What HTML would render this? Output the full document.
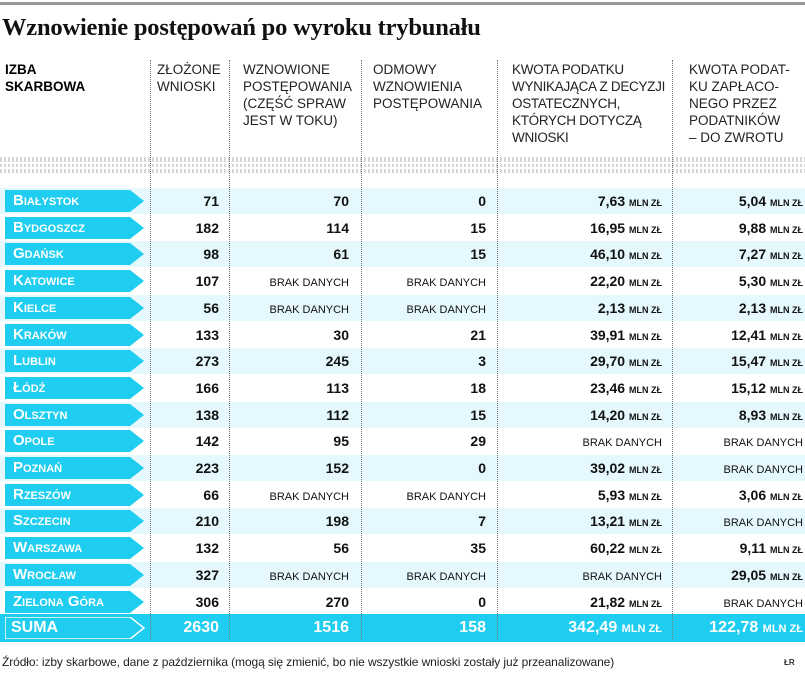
<!DOCTYPE html>
<html><head><meta charset="utf-8">
<style>
body{margin:0;width:805px;height:682px;background:#fff;position:relative;overflow:hidden;font-family:"Liberation Sans",sans-serif;color:#111}
.a{position:absolute;white-space:nowrap}
.h{position:absolute;font-size:13.5px;line-height:17px;color:#222;white-space:nowrap}
.vd{position:absolute;top:60px;height:580px;border-left:1px dotted #777}
.n{position:absolute;font-weight:bold;font-size:14px;text-align:right;white-space:nowrap}
.u{font-size:9px;font-weight:bold}
.bd{font-weight:normal;font-size:11px}
</style></head><body>
<div class="a" style="left:0;top:2px;width:805px;height:3px;background:#999"></div>
<div class="a" style="left:2px;top:14px;font-family:'Liberation Serif',serif;font-weight:bold;font-size:24.5px;letter-spacing:-0.2px">Wznowienie postępowań po wyroku trybunału</div>

<div class="h" style="left:5px;top:61px;font-weight:bold;color:#000">IZBA<br>SKARBOWA</div>
<div class="h" style="left:157px;top:61px">ZŁOŻONE<br>WNIOSKI</div>
<div class="h" style="left:243px;top:61px">WZNOWIONE<br>POSTĘPOWANIA<br>(CZĘŚĆ SPRAW<br>JEST W TOKU)</div>
<div class="h" style="left:373px;top:61px">ODMOWY<br>WZNOWIENIA<br>POSTĘPOWANIA</div>
<div class="h" style="left:512px;top:61px;letter-spacing:-0.3px">KWOTA PODATKU<br>WYNIKAJĄCA Z DECYZJI<br>OSTATECZNYCH,<br>KTÓRYCH DOTYCZĄ<br>WNIOSKI</div>
<div class="h" style="left:689px;top:61px">KWOTA PODAT-<br>KU ZAPŁACO-<br>NEGO PRZEZ<br>PODATNIKÓW<br>– DO ZWROTU</div>

<div class="a" style="left:0;top:157px;width:805px;height:16px;background:repeating-linear-gradient(90deg,#ccc 0 2px,transparent 2px 4px);opacity:.8"></div>
<div class="a" style="left:0;top:162px;width:805px;height:2px;background:#fff"></div>
<div class="a" style="left:0;top:167px;width:805px;height:2px;background:#fff"></div>

<div id="rows"></div>

<div class="a" style="left:2px;top:655px;font-size:12px;color:#222;letter-spacing:-0.1px">Źródło: izby skarbowe, dane z października (mogą się zmienić, bo nie wszystkie wnioski zostały już przeanalizowane)</div>
<div class="a" style="left:784px;top:658px;font-size:8px;font-weight:bold;color:#333">ŁR</div>

<script>
const names=["Białystok","Bydgoszcz","Gdańsk","Katowice","Kielce","Kraków","Lublin","Łódź","Olsztyn","Opole","Poznań","Rzeszów","Szczecin","Warszawa","Wrocław","Zielona Góra"];
const zlozone=[71,182,98,107,56,133,273,166,138,142,223,66,210,132,327,306];
const wznowione=[70,114,61,null,null,30,245,113,112,95,152,null,198,56,null,270];
const odmowy=[0,15,15,null,null,21,3,18,15,29,0,null,7,35,null,0];
const kwota=["7,63","16,95","46,10","22,20","2,13","39,91","29,70","23,46","14,20",null,"39,02","5,93","13,21","60,22",null,"21,82"];
const zwrot=["5,04","9,88","7,27","5,30","2,13","12,41","15,47","15,12","8,93",null,null,"3,06",null,"9,11","29,05",null];
const totals=["2630","1516","158","342,49","122,78"];

const rows=document.getElementById('rows');
const top0=190, pitch=26.7;
const rights=[219,349,486,662,803];
function mk(cls,css,html){const d=document.createElement('div');d.className=cls;d.style.cssText=css;d.innerHTML=html;rows.appendChild(d);return d;}
function label(y,text,isSum){
  const bg=isSum?'transparent':'#1fcdf0';
  const svg=`<svg width="140" height="22" style="position:absolute;left:0;top:0"><polygon points="0,0 125,0 139,11 125,22 0,22" fill="${bg}" stroke="${isSum?'#fff':'none'}" stroke-width="1.5"/></svg>`;
  return mk('a',`left:5px;top:${y}px;width:140px;height:22px`,svg+`<span style="position:absolute;left:${isSum?6:8}px;top:2px;color:#fff;font-weight:bold;font-size:${isSum?16:15}px;${isSum?'':'font-variant:small-caps;'}">${text}</span>`);
}
function cell(col,y,html,white){
  return mk('n',`right:${805-rights[col]}px;top:${y+3}px;${white?'color:#fff;font-size:16px;top:'+(y+3)+'px':''}`,html);
}
for(let i=0;i<names.length;i++){
  const y=Math.round(top0+i*pitch);
  if(i%2===0){const b=mk('a',`left:0;top:${y-2}px;width:805px;height:26px;background:#e4f8fd`,'');
    
    }
  const l=label(y,names[i],false);
  
  
  const bd='<span class="bd">BRAK DANYCH</span>';
  const vals=[zlozone[i],wznowione[i]==null?bd:wznowione[i],odmowy[i]==null?bd:odmowy[i],
    kwota[i]==null?bd:kwota[i]+' <span class="u">MLN ZŁ</span>',zwrot[i]==null?bd:zwrot[i]+' <span class="u">MLN ZŁ</span>'];
  vals.forEach((v,c)=>{const e=cell(c,y,String(v),false);
    
    });
}
const ys=Math.round(top0+15*pitch)+25;
const sb=mk('a',`left:0;top:${ys-2}px;width:805px;height:28px;background:#1fcdf0`,'');


const sl=label(ys+1,'SUMA',true);


totals.forEach((t,c)=>{const e=cell(c,ys,t+(c>=3?' <span class="u" style="font-size:11px">MLN ZŁ</span>':''),true);
  
  });
[150,229,361,497,672].forEach(x=>{const v=mk('vd',`left:${x}px`,'');
  
  });
</script>
</body></html>
